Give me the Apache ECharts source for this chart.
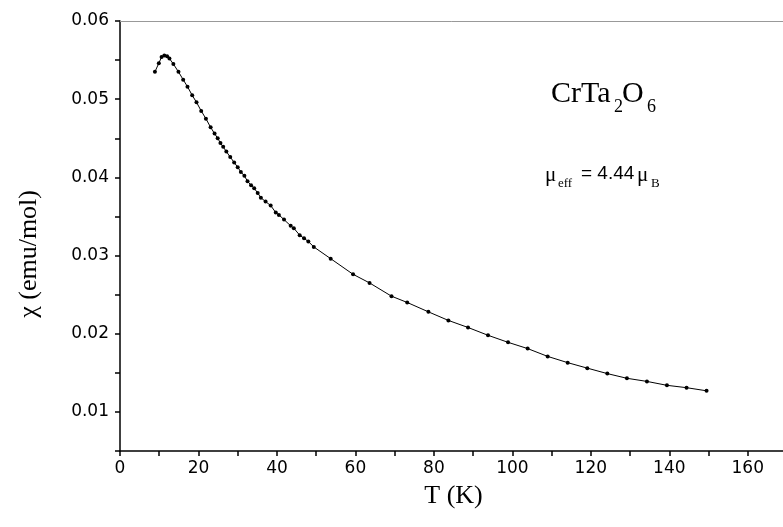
<!DOCTYPE html>
<html>
<head>
<meta charset="utf-8">
<script src="https://cdn.jsdelivr.net/npm/echarts@6/dist/echarts.min.js"></script>
<style>
  html, body { margin: 0; padding: 0; background: #fff; }
  #chart { width: 783px; height: 527px; }
</style>
</head>
<body>
<div id="chart"></div>
<script>
// 温度 (K)
const temps = [8.9, 9.9, 10.6, 11.3, 12.0, 12.6, 13.6, 14.9, 16.1, 17.2, 18.4, 19.5, 20.7, 21.9, 23.1,
  24.1, 24.9, 25.6, 26.3, 27.1, 28.1, 29.1, 30.0, 30.8, 31.7, 32.5, 33.4, 34.2, 35.1, 35.9, 37.1,
  38.4, 39.7, 40.5, 41.8, 43.5, 44.3, 45.8, 46.9, 48.0, 49.4, 53.7, 59.4, 63.6, 69.2, 73.2, 78.6,
  83.7, 88.7, 93.8, 98.9, 103.9, 109.0, 114.1, 119.1, 124.2, 129.2, 134.3, 139.4, 144.4, 149.5]
// 磁化率 χ (emu/mol)
const chi = [0.0535, 0.0546, 0.0554, 0.0556, 0.0555, 0.0552, 0.0545, 0.0535, 0.0525, 0.0516, 0.0505, 0.0496, 0.0485, 0.0475, 0.0464,
  0.0456, 0.0450, 0.0444, 0.0439, 0.0433, 0.0426, 0.0419, 0.0413, 0.0407, 0.0402, 0.0395, 0.0390, 0.0386, 0.0380, 0.0374, 0.0369,
  0.0364, 0.0355, 0.0352, 0.0346, 0.0338, 0.0335, 0.0326, 0.0322, 0.0318, 0.0311, 0.0296, 0.0276, 0.0265, 0.0248, 0.0240, 0.0228,
  0.0217, 0.0208, 0.0198, 0.0189, 0.0181, 0.0171, 0.0163, 0.0156, 0.0149, 0.0143, 0.0139, 0.0134, 0.0131, 0.0127]
// 刻度
const xLabelStep = 20
const yLabelStep = 0.01

const serif = '"Liberation Serif", "Times New Roman", serif'
const sans = '"DejaVu Sans", sans-serif'
const arial = '"Liberation Sans", Arial, sans-serif'

const chart = echarts.init(document.getElementById('chart'))

// 注释文字（分段放置，下标单独一段）
const txt = (x, y, text, size, font) => ({
  type: 'text', left: x, top: y, silent: true,
  style: { text, font: `${size}px ${font}`, fill: '#000' }
})

const option = {
  animation: false,
  // 原图右侧被裁掉，坐标区延伸到画布外
  grid: { left: 120, top: 21, width: 667, bottom: 76, containLabel: false, outerBoundsMode: 'none' },
  xAxis: [{
    type: 'value', min: 0, max: 170, interval: 10,
    name: 'T (K)', nameLocation: 'middle', nameGap: 32,
    nameTextStyle: { fontFamily: serif, fontSize: 26, color: '#000' },
    axisLine: { onZero: false, lineStyle: { color: '#000', width: 1.5 } },
    axisTick: { inside: false, length: 5, lineStyle: { color: '#000', width: 1.5 } },
    axisLabel: {
      margin: 9, fontFamily: sans, fontSize: 17, color: '#000',
      formatter: v => (Math.round(v) % xLabelStep === 0 ? String(v) : '')
    },
    splitLine: { show: false }
  }, {
    type: 'value', position: 'top', min: 0, max: 170,
    axisLine: { show: true, lineStyle: { color: '#999', width: 1 } },
    axisTick: { show: false }, axisLabel: { show: false }, splitLine: { show: false }
  }],
  yAxis: {
    type: 'value', min: 0.005, max: 0.06, interval: 0.005,
    axisLine: { show: true, onZero: false, lineStyle: { color: '#000', width: 1.5 } },
    axisTick: { inside: false, length: 5, lineStyle: { color: '#000', width: 1.5 } },
    axisLabel: {
      margin: 11, fontFamily: sans, fontSize: 17, color: '#000',
      formatter: v => (Math.round(v * 1000) % Math.round(yLabelStep * 1000) === 0 ? v.toFixed(2) : '')
    },
    splitLine: { show: false }
  },
  graphic: [
    {
      type: 'text', left: 16, top: 190, rotation: Math.PI / 2, silent: true,
      style: { text: 'χ (emu/mol)', font: `26px ${serif}`, fill: '#000' }
    },
    txt(551, 79, 'CrTa', 30, serif),
    txt(614, 98, '2', 18, serif),
    txt(622, 79, 'O', 30, serif),
    txt(647, 98, '6', 18, serif),
    txt(545, 165, 'μ', 21, serif),
    txt(558, 177, 'eff', 13, serif),
    txt(581, 164, '= 4.44', 19, arial),
    txt(637, 165, 'μ', 21, serif),
    txt(651, 177, 'B', 13, serif)
  ],
  series: [{
    type: 'line',
    data: temps.map((t, i) => [t, chi[i]]),
    showSymbol: true,
    symbol: 'circle',
    symbolSize: 4,
    itemStyle: { color: '#000' },
    lineStyle: { color: '#000', width: 1 },
    smooth: false
  }]
}

chart.setOption(option)
</script>
</body>
</html>
